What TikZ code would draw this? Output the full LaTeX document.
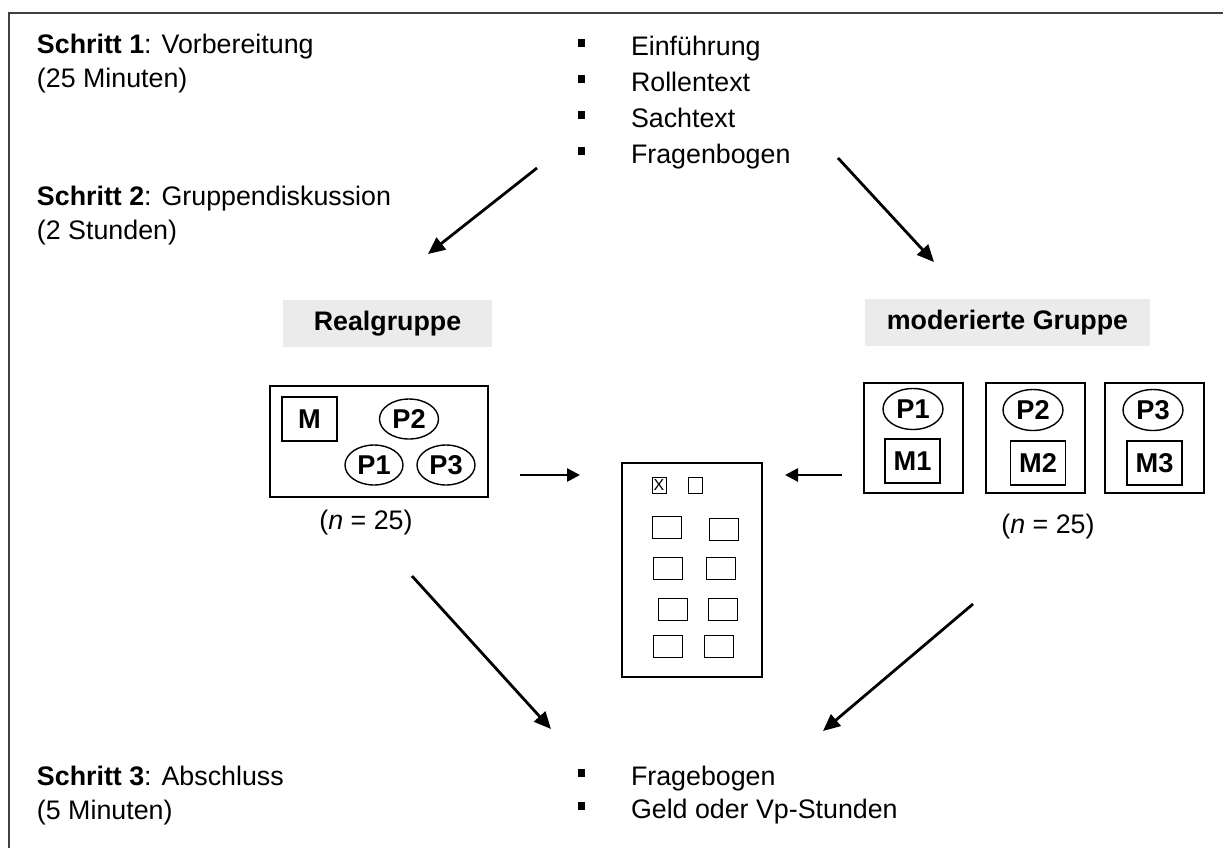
\documentclass[tikz,border=0pt]{standalone}
\usepackage{fontspec}
\setmainfont{Liberation Sans}
\usetikzlibrary{arrows.meta,shapes.geometric}
\definecolor{lblgray}{HTML}{EBEBEB}
\definecolor{framegray}{HTML}{404040}
\begin{document}
\begin{tikzpicture}[x=0.5pt,y=-0.5pt,
  every node/.style={font=\fontsize{13.4}{16}\selectfont, inner sep=0pt, outer sep=0pt},
  txt/.style={anchor=base west},
  bul/.style={fill=black, minimum size=3.6pt},
  lbl/.style={fill=lblgray, minimum height=23.5pt, font=\fontsize{13.4}{16}\selectfont\bfseries},
  bigbox/.style={draw, line width=0.7pt},
  mbox/.style={draw, line width=0.7pt, minimum width=27.5pt, minimum height=22pt, font=\fontsize{13.6}{16}\selectfont\bfseries},
  pell/.style={draw, ellipse, line width=0.7pt, minimum width=29.5pt, minimum height=20pt, font=\fontsize{13.6}{16}\selectfont\bfseries},
  qbox/.style={draw, line width=0.5pt, minimum width=14.5pt, minimum height=11pt},
  cbox/.style={draw, line width=0.5pt, minimum width=7pt, minimum height=8pt, font=\fontsize{8}{8}\selectfont},
  arr/.style={-{Triangle[length=8.5pt,width=7.5pt]}, line width=1.4pt},
  sarr/.style={-{Triangle[length=6.5pt,width=6.5pt]}, line width=1.3pt}]
\useasboundingbox (0,0) rectangle (1223,848);

% frame
\coordinate (fr1) at (1223,13);
\coordinate (fr2) at (9,13);
\coordinate (fr3) at (9,848);
\draw[line width=0.9pt, framegray] (fr1) -- (fr2) -- (fr3);

% step texts
\node[txt] (s1) at (37,53) {\textbf{Schritt 1}: Vorbereitung};
\node[txt] (s1b) at (37,87) {(25 Minuten)};
\node[txt] (s2) at (37,205) {\textbf{Schritt 2}: Gruppendiskussion};
\node[txt] (s2b) at (37,239) {(2 Stunden)};
\node[txt] (s3) at (37,785) {\textbf{Schritt 3}: Abschluss};
\node[txt] (s3b) at (37,819) {(5 Minuten)};

% top bullet list
\node[bul] (b1) at (581.5,43) {};
\node[bul] (b2) at (581.5,79) {};
\node[bul] (b3) at (581.5,115) {};
\node[bul] (b4) at (581.5,151) {};
\node[txt] (t1) at (631,55) {Einführung};
\node[txt] (t2) at (631,91) {Rollentext};
\node[txt] (t3) at (631,127) {Sachtext};
\node[txt] (t4) at (631,163) {Fragenbogen};

% bottom bullet list
\node[bul] (b5) at (581.5,773) {};
\node[bul] (b6) at (581.5,806) {};
\node[txt] (t5) at (631,785) {Fragebogen};
\node[txt] (t6) at (631,818) {Geld oder Vp-Stunden};

% group labels
\node[lbl, minimum width=104.5pt] (rg) at (387.5,323.5) {Realgruppe};
\node[lbl, minimum width=142.5pt] (mg) at (1007.5,322.5) {moderierte Gruppe};

% real group
\node[bigbox, minimum width=109pt, minimum height=55.5pt] (rbox) at (379,441.5) {};
\node[mbox] (rm) at (309.5,419) {M};
\node[pell] (rp2) at (409,419) {P2};
\node[pell, minimum width=29pt] (rp1) at (374,465) {P1};
\node[pell, minimum width=29pt] (rp3) at (446,465) {P3};
\node (rn) at (366,523) {(\textit{n} = 25)};

% moderated groups
\node[bigbox, minimum width=49.5pt, minimum height=55pt] (mb1) at (913.5,438) {};
\node[bigbox, minimum width=49.5pt, minimum height=55pt] (mb2) at (1035.5,438) {};
\node[bigbox, minimum width=49.5pt, minimum height=55pt] (mb3) at (1154.5,438) {};
\node[pell, minimum width=30pt, minimum height=20.5pt] (mp1) at (913,409) {P1};
\node[pell, minimum width=30pt, minimum height=20.5pt] (mp2) at (1033,410) {P2};
\node[pell, minimum width=30pt, minimum height=20.5pt] (mp3) at (1153,410) {P3};
\node[mbox] (mm1) at (912.5,461) {M1};
\node[mbox] (mm2) at (1038,463) {M2};
\node[mbox] (mm3) at (1154.5,463) {M3};
\node (mn) at (1048,527) {(\textit{n} = 25)};

% questionnaire
\node[draw, line width=0.6pt, minimum width=70pt, minimum height=107pt] (q) at (692,570) {};
\node[cbox] (qx) at (659,485) {X};
\node[cbox] (qe) at (695,485) {};
\node[qbox] (q1a) at (666.5,527) {};
\node[qbox] (q1b) at (723.5,529) {};
\node[qbox] (q2a) at (667.5,568) {};
\node[qbox] (q2b) at (720.5,568) {};
\node[qbox] (q3a) at (672.5,609) {};
\node[qbox] (q3b) at (722.5,609) {};
\node[qbox] (q4a) at (667.5,646) {};
\node[qbox] (q4b) at (718.5,646) {};

% arrows
\coordinate (a1s) at (537,168);
\coordinate (a1e) at (428,254);
\coordinate (a2s) at (838,158);
\coordinate (a2e) at (934,262);
\coordinate (a3s) at (412,576);
\coordinate (a3e) at (551,729);
\coordinate (a4s) at (973,604);
\coordinate (a4e) at (823,731);
\coordinate (a5s) at (520,475);
\coordinate (a5e) at (580,475);
\coordinate (a6s) at (842,475);
\coordinate (a6e) at (785,475);
\draw[arr] (a1s) -- (a1e);
\draw[arr] (a2s) -- (a2e);
\draw[arr] (a3s) -- (a3e);
\draw[arr] (a4s) -- (a4e);
\draw[sarr] (a5s) -- (a5e);
\draw[sarr] (a6s) -- (a6e);
\end{tikzpicture}
\end{document}
